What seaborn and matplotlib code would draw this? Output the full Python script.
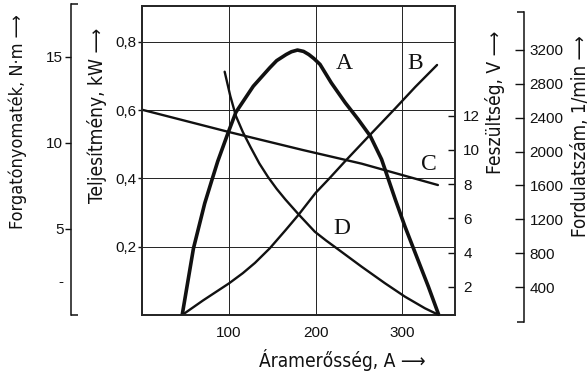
import seaborn as sns
import matplotlib.pyplot as plt
import pandas as pd
import numpy as np

# -------------------------
# Data
# -------------------------

# A: power (kW) vs current (A)
power_current = [46, 59, 72, 80, 87, 99, 108, 128, 147, 155, 166, 172, 179, 186, 192, 198, 205, 218, 234, 249, 263,
                 276, 292, 303, 318, 330, 342]
power_kw = [0.0, 0.195, 0.327, 0.393, 0.45, 0.534, 0.594, 0.670, 0.724, 0.745, 0.763, 0.771, 0.776, 0.772, 0.763,
            0.751, 0.734, 0.680, 0.622, 0.573, 0.524, 0.456, 0.337, 0.259, 0.161, 0.083, 0.0]

# B: torque (N·m) vs current
torque_current = [46, 70, 100, 116, 130, 147, 165, 180, 200, 215, 234, 261, 292, 315, 340]
torque_nm = [0.0, 0.85, 1.85, 2.45, 3.05, 3.9, 4.95, 5.85, 7.15, 7.95, 9.0, 10.45, 12.1, 13.35, 14.63]

# C: voltage (V) vs current
voltage_current = [0, 100, 185, 253, 341]
voltage_v = [12.35, 11.05, 10.0, 9.2, 7.95]

# D: speed (1/min) vs current
speed_current = [95, 101.5, 108, 116, 125, 135, 145, 155, 165, 180, 199, 212, 226, 253, 280, 303, 326, 342]
speed_rpm = [2943, 2656, 2420, 2230, 2050, 1860, 1700, 1560, 1435, 1262, 1054, 950, 845, 641, 445, 287, 150, 71]

x_ticks = [100, 200, 300]
kw_ticks = [0.2, 0.4, 0.6, 0.8]
kw_labels = ["0,2", "0,4", "0,6", "0,8"]
torque_ticks = [2, 5, 10, 15]
torque_labels = ["-", "5", "10", "15"]
volt_ticks = [2, 4, 6, 8, 10, 12]
rpm_ticks = [400, 800, 1200, 1600, 2000, 2400, 2800, 3200]

curve_letters = ["A", "B", "C", "D"]
letter_x = [233, 315, 331, 230]
letter_kw = [0.738, 0.738, 0.442, 0.254]

df_a = pd.DataFrame({"I": power_current, "P": power_kw})
df_b = pd.DataFrame({"I": torque_current, "M": torque_nm})
df_c = pd.DataFrame({"I": voltage_current, "U": voltage_v})
df_d = pd.DataFrame({"I": speed_current, "n": speed_rpm})

# -------------------------
# Styling
# -------------------------

sns.set_style("ticks")
plt.rcParams["font.family"] = ["Liberation Sans"]
plt.rcParams["axes.linewidth"] = 1.1
plt.rcParams["xtick.color"] = "#111111"
plt.rcParams["ytick.color"] = "#111111"
INK = "#111111"

W, H = 588, 374


def box(l, t, r, b):
    return [l / W, 1 - b / H, (r - l) / W, (b - t) / H]


fig = plt.figure(figsize=(W / 100, H / 100), dpi=100)

# main axes: current vs power
ax = fig.add_axes(box(142.3, 6, 455, 315))
ax.set_xlim(0, 360.7)
ax.set_ylim(0, 0.905)
for s in ax.spines.values():
    s.set_color(INK)
ax.set_xticks(x_ticks)
ax.set_xticklabels([str(v) for v in x_ticks])
ax.set_yticks(kw_ticks)
ax.set_yticklabels(kw_labels)
ax.tick_params(axis="x", length=0, pad=8, labelsize=11)
ax.tick_params(axis="y", direction="out", length=3, pad=1, labelsize=11, width=1)
ax.grid(True, color="#222222", linewidth=0.7)

sns.lineplot(data=df_a, x="I", y="P", ax=ax, color=INK, linewidth=2.6)
ax.set_xlabel("")
ax.set_ylabel("")

# torque axis (far left)
axT = fig.add_axes(box(71, 4, 72, 315))
axT.patch.set_visible(False)
for k in ["top", "right", "bottom"]:
    axT.spines[k].set_visible(False)
axT.spines["left"].set_color(INK)
axT.set_xticks([])
axT.set_ylim(0, 18.08)
axT.set_yticks(torque_ticks)
axT.set_yticklabels(torque_labels)
axT.set_yticks([0, 18.08], minor=True)
axT.tick_params(axis="y", which="major", direction="out", length=4.5, pad=1, labelsize=11, width=1)
axT.tick_params(axis="y", which="minor", direction="in", length=5, width=1.1)
axT.yaxis.get_major_ticks()[0].tick1line.set_visible(False)

# voltage axis on the right spine
axV = ax.twinx()
axV.set_ylim(0.35, 18.42)
axV.set_yticks(volt_ticks)
axV.set_yticklabels([str(v) for v in volt_ticks])
axV.tick_params(axis="y", direction="in", length=5, pad=6, labelsize=11, width=1)
sns.lineplot(data=df_c, x="I", y="U", ax=axV, color=INK, linewidth=1.7)
axV.set_ylabel("")

# torque curve drawn on its own scale over the plot area
axB = ax.twinx()
axB.set_ylim(0, 18.08)
axB.set_yticks([])
axB.spines["right"].set_visible(False)
sns.lineplot(data=df_b, x="I", y="M", ax=axB, color=INK, linewidth=1.7)
axB.set_ylabel("")

# speed curve on the rpm scale (offset a few px below the box)
axD = fig.add_axes(box(142.3, 12, 455, 322))
axD.patch.set_visible(False)
for s in axD.spines.values():
    s.set_visible(False)
axD.set_xlim(0, 360.7)
axD.set_ylim(-12, 3648)
sns.lineplot(data=df_d, x="I", y="n", ax=axD, color=INK, linewidth=1.7)
axD.set_xticks([])
axD.set_yticks([])
axD.set_xlabel("")
axD.set_ylabel("")

# rpm axis (far right)
axR = fig.add_axes(box(523, 12, 524, 322))
axR.patch.set_visible(False)
for k in ["top", "left", "bottom"]:
    axR.spines[k].set_visible(False)
axR.spines["right"].set_color(INK)
axR.set_xticks([])
axR.yaxis.tick_right()
axR.set_ylim(-12, 3648)
axR.set_yticks(rpm_ticks)
axR.set_yticklabels([str(v) for v in rpm_ticks])
axR.set_yticks([-12, 3648], minor=True)
axR.tick_params(axis="y", which="major", direction="in", length=6.5, pad=4, labelsize=11, width=1)
axR.tick_params(axis="y", which="minor", direction="in", length=5, width=1.1)

# curve letters
for letter, lx, ly in zip(curve_letters, letter_x, letter_kw):
    ax.text(lx, ly, letter, ha="center", va="center", fontsize=17,
            family="Liberation Serif", color=INK)

# axis titles (single font so accents render cleanly)
lab = dict(color=INK, ha="center", va="center",
           family="DejaVu Sans", fontstretch="condensed")
fig.text(18 / W, 1 - 121.5 / H, "Forgatónyomaték, N·m ⟶", rotation=90, fontsize=13, **lab)
fig.text(97 / W, 1 - 115 / H, "Teljesítmény, kW ⟶", rotation=90, fontsize=13.8, **lab)
fig.text(495 / W, 1 - 102.5 / H, "Feszültség, V ⟶", rotation=90, fontsize=13.8, **lab)
fig.text(580 / W, 1 - 136 / H, "Fordulatszám, 1/min ⟶", rotation=90, fontsize=13.5, **lab)
fig.text(342.5 / W, 1 - 360 / H, "Áramerősség, A ⟶", fontsize=13.8, **lab)

plt.savefig("out.png", dpi=100)
plt.close()
